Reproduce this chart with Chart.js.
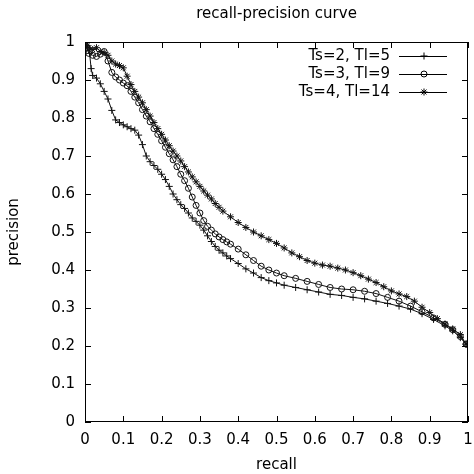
<!DOCTYPE html>
<html>
<head>
<meta charset="utf-8">
<script src="https://cdn.jsdelivr.net/npm/chart.js@4"></script>
<style>
  html, body { margin: 0; padding: 0; background: #fff; }
  #wrap { width: 474px; height: 474px; }
</style>
</head>
<body>
<div id="wrap"><canvas id="rpChart" width="474" height="474"></canvas></div>
<script>
// tick labels
const xTicks = ['0', '0.1', '0.2', '0.3', '0.4', '0.5', '0.6', '0.7', '0.8', '0.9', '1'];
const yTicks = ['0', '0.1', '0.2', '0.3', '0.4', '0.5', '0.6', '0.7', '0.8', '0.9', '1'];
const seriesNames = ['Ts=2, Tl=5', 'Ts=3, Tl=9', 'Ts=4, Tl=14'];
const chartTitle = 'recall-precision curve';

// Ts=2, Tl=5
const recallA = [0, 0.005, 0.012, 0.016, 0.02, 0.03, 0.04, 0.05, 0.06, 0.07, 0.08, 0.09, 0.1, 0.11, 0.12, 0.13, 0.14, 0.15, 0.16, 0.17, 0.18, 0.19, 0.2, 0.21, 0.22, 0.23, 0.24, 0.25, 0.26, 0.27, 0.28, 0.29, 0.3, 0.31, 0.32, 0.33, 0.34, 0.35, 0.36, 0.37, 0.38, 0.4, 0.42, 0.44, 0.46, 0.48, 0.5, 0.52, 0.55, 0.58, 0.61, 0.64, 0.67, 0.7, 0.73, 0.76, 0.79, 0.82, 0.85, 0.88, 0.91, 0.94, 0.96, 0.98, 0.995];
const precisionA = [1.0, 0.99, 0.97, 0.93, 0.912, 0.905, 0.89, 0.87, 0.85, 0.82, 0.795, 0.788, 0.782, 0.777, 0.772, 0.768, 0.755, 0.73, 0.70, 0.685, 0.675, 0.665, 0.652, 0.638, 0.62, 0.60, 0.585, 0.572, 0.562, 0.55, 0.537, 0.528, 0.518, 0.505, 0.49, 0.475, 0.462, 0.452, 0.445, 0.437, 0.43, 0.417, 0.403, 0.392, 0.38, 0.372, 0.366, 0.36, 0.354, 0.348, 0.342, 0.336, 0.333, 0.328, 0.324, 0.318, 0.312, 0.305, 0.297, 0.285, 0.27, 0.253, 0.24, 0.222, 0.205];

// Ts=3, Tl=9
const recallB = [0, 0.005, 0.01, 0.02, 0.03, 0.04, 0.05, 0.06, 0.07, 0.08, 0.09, 0.1, 0.11, 0.12, 0.13, 0.14, 0.15, 0.16, 0.17, 0.18, 0.19, 0.2, 0.21, 0.22, 0.23, 0.24, 0.25, 0.26, 0.27, 0.28, 0.29, 0.3, 0.31, 0.32, 0.33, 0.34, 0.35, 0.36, 0.37, 0.38, 0.4, 0.42, 0.44, 0.46, 0.48, 0.5, 0.52, 0.55, 0.58, 0.61, 0.64, 0.67, 0.7, 0.73, 0.76, 0.79, 0.82, 0.85, 0.88, 0.91, 0.94, 0.96, 0.98, 0.995];
const precisionB = [1.0, 0.985, 0.97, 0.965, 0.962, 0.968, 0.975, 0.95, 0.92, 0.908, 0.9, 0.892, 0.885, 0.87, 0.855, 0.84, 0.822, 0.805, 0.79, 0.772, 0.757, 0.74, 0.723, 0.706, 0.69, 0.672, 0.652, 0.635, 0.615, 0.592, 0.57, 0.55, 0.53, 0.515, 0.505, 0.495, 0.487, 0.48, 0.474, 0.468, 0.455, 0.44, 0.425, 0.41, 0.4, 0.392, 0.385, 0.378, 0.37, 0.362, 0.354, 0.35, 0.348, 0.344, 0.338, 0.328, 0.318, 0.305, 0.29, 0.274, 0.257, 0.243, 0.225, 0.205];

// Ts=4, Tl=14
const recallC = [0, 0.005, 0.01, 0.02, 0.03, 0.04, 0.05, 0.06, 0.07, 0.08, 0.09, 0.1, 0.11, 0.12, 0.13, 0.14, 0.15, 0.16, 0.17, 0.18, 0.19, 0.2, 0.21, 0.22, 0.23, 0.24, 0.25, 0.26, 0.27, 0.28, 0.29, 0.3, 0.31, 0.32, 0.33, 0.34, 0.35, 0.36, 0.38, 0.4, 0.42, 0.44, 0.46, 0.48, 0.5, 0.52, 0.54, 0.56, 0.58, 0.6, 0.62, 0.64, 0.66, 0.68, 0.7, 0.72, 0.74, 0.76, 0.78, 0.8, 0.82, 0.84, 0.86, 0.88, 0.9, 0.92, 0.94, 0.96, 0.98, 0.995];
const precisionC = [0.995, 0.99, 0.985, 0.98, 0.985, 0.975, 0.972, 0.965, 0.95, 0.942, 0.938, 0.932, 0.91, 0.888, 0.87, 0.855, 0.84, 0.822, 0.805, 0.788, 0.772, 0.757, 0.742, 0.727, 0.713, 0.7, 0.687, 0.672, 0.658, 0.645, 0.632, 0.62, 0.608, 0.597, 0.587, 0.575, 0.565, 0.555, 0.54, 0.525, 0.512, 0.5, 0.49, 0.48, 0.47, 0.458, 0.445, 0.435, 0.425, 0.418, 0.413, 0.41, 0.405, 0.4, 0.393, 0.385, 0.376, 0.367, 0.356, 0.345, 0.337, 0.33, 0.318, 0.302, 0.288, 0.272, 0.258, 0.245, 0.23, 0.205];

const FONT = "'DejaVu Sans', sans-serif";

function pts(xs, ys) {
    return xs.map((x, i) => ({ x: x, y: ys[i] }));
}

// gnuplot style frame: box around plot with inward ticks on all sides,
// title centred over the plot and the key in the top right corner
const framePlugin = {
    id: 'frame',
    afterDatasetsDraw(chart) {
        const ctx = chart.ctx;
        const a = chart.chartArea;
        const xs = chart.scales.x, ys = chart.scales.y;
        const len = 6;
        ctx.save();
        ctx.strokeStyle = '#000';
        ctx.lineWidth = 1;
        ctx.strokeRect(a.left + 0.5, a.top + 0.5, a.right - a.left - 1, a.bottom - a.top - 1);
        ctx.beginPath();
        xTicks.forEach(t => {
            const px = Math.round(xs.getPixelForValue(parseFloat(t))) + 0.5;
            ctx.moveTo(px, a.bottom); ctx.lineTo(px, a.bottom - len);
            ctx.moveTo(px, a.top); ctx.lineTo(px, a.top + len);
        });
        yTicks.forEach(t => {
            const py = Math.round(ys.getPixelForValue(parseFloat(t))) + 0.5;
            ctx.moveTo(a.left, py); ctx.lineTo(a.left + len, py);
            ctx.moveTo(a.right, py); ctx.lineTo(a.right - len, py);
        });
        ctx.stroke();

        ctx.font = '15px ' + FONT;
        ctx.fillStyle = '#000';
        ctx.textBaseline = 'middle';
        ctx.textAlign = 'center';
        ctx.fillText(chartTitle, (a.left + a.right) / 2, 14);

        ctx.textAlign = 'right';
        chart.data.datasets.forEach((ds, i) => {
            const y = a.top + 14 + i * 18;
            ctx.fillStyle = '#000';
            ctx.fillText(ds.label, a.left + 305, y);
            ctx.beginPath();
            ctx.moveTo(a.left + 314, y + 0.5);
            ctx.lineTo(a.left + 362, y + 0.5);
            ctx.stroke();
            ctx.fillStyle = 'rgba(0,0,0,0)';
            Chart.helpers.drawPoint(ctx, {
                pointStyle: ds.pointStyle,
                radius: ds.pointRadius,
                borderWidth: 1
            }, a.left + 339, y);
        });
        ctx.restore();
    }
};

const common = {
    borderColor: '#111',
    borderWidth: 1,
    pointBorderColor: '#111',
    pointBorderWidth: 1,
    pointBackgroundColor: 'rgba(0,0,0,0)',
    showLine: true,
    tension: 0,
    fill: false
};

Chart.defaults.color = '#000';
Chart.defaults.font.family = FONT;

new Chart(document.getElementById('rpChart').getContext('2d'), {
    type: 'scatter',
    data: {
        datasets: [
            Object.assign({ label: seriesNames[0], data: pts(recallA, precisionA), pointStyle: 'cross', pointRadius: 3.5 }, common),
            Object.assign({ label: seriesNames[1], data: pts(recallB, precisionB), pointStyle: 'circle', pointRadius: 3 }, common),
            Object.assign({ label: seriesNames[2], data: pts(recallC, precisionC), pointStyle: 'star', pointRadius: 3.5 }, common)
        ]
    },
    options: {
        responsive: false,
        animation: false,
        devicePixelRatio: 1,
        layout: { padding: { left: 0, right: 6, top: 42, bottom: 0 } },
        plugins: {
            legend: { display: false },
            tooltip: { enabled: false },
            title: { display: false }
        },
        scales: {
            x: {
                type: 'linear',
                min: 0, max: 1,
                grid: { display: false, drawTicks: false },
                border: { display: false },
                ticks: {
                    stepSize: 0.1,
                    padding: 9,
                    maxRotation: 0,
                    font: { size: 15 },
                    callback: (v, i) => xTicks[i]
                },
                title: { display: true, text: 'recall', font: { size: 15 }, padding: { top: 0, bottom: 0 } },
                afterFit: s => { s.height = 52; s.paddingLeft = 0; s.paddingRight = 0; }
            },
            y: {
                type: 'linear',
                min: 0, max: 1,
                grid: { display: false, drawTicks: false },
                border: { display: false },
                ticks: {
                    stepSize: 0.1,
                    padding: 10,
                    font: { size: 15 },
                    callback: (v, i) => yTicks[i]
                },
                title: { display: true, text: 'precision', font: { size: 15 }, padding: { top: 5, bottom: 0 } },
                afterFit: s => { s.width = 85; s.paddingTop = 0; s.paddingBottom = 0; }
            }
        }
    },
    plugins: [framePlugin]
});
</script>
</body>
</html>
